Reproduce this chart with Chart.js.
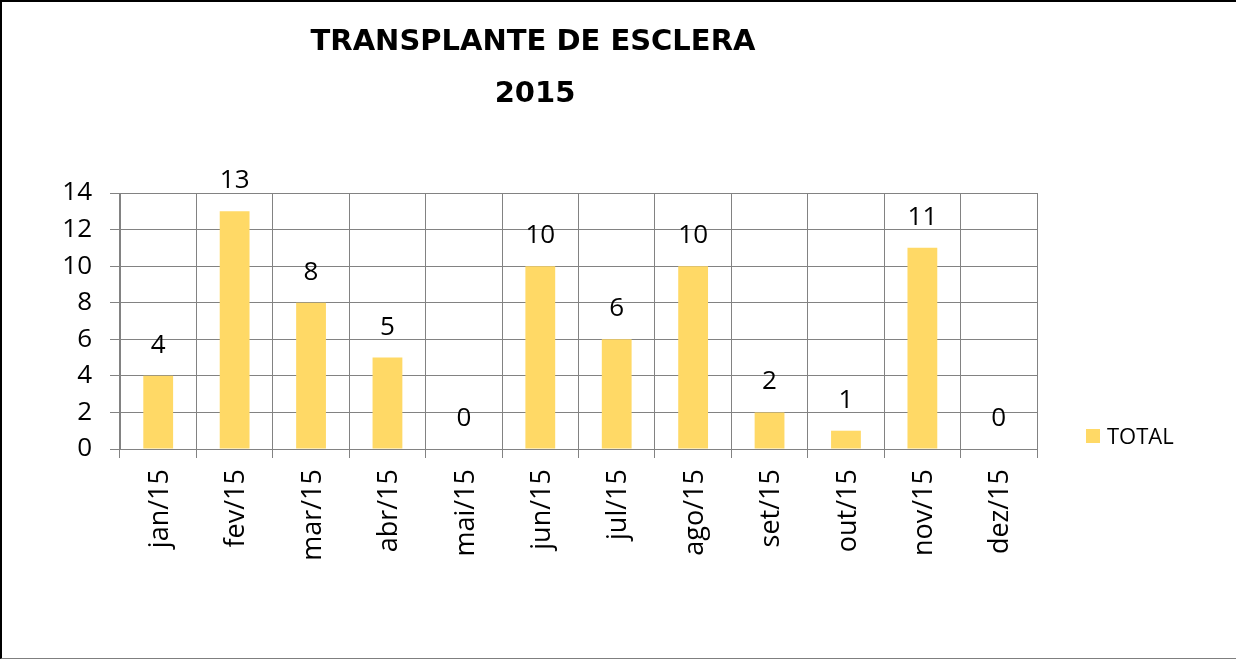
<!DOCTYPE html>
<html>
<head>
<meta charset="utf-8">
<title>Transplante de Esclera 2015</title>
<script src="https://cdn.jsdelivr.net/npm/chart.js@4.4.1/dist/chart.umd.min.js"></script>
<style>
  html, body { margin: 0; padding: 0; background: #fff; }
  #frame {
    width: 1236px; height: 659px; box-sizing: border-box;
    border-top: 2px solid #000; border-left: 2px solid #000; border-bottom: 1px solid #7f7f7f;
    overflow: hidden;
  }
  canvas { display: block; }
</style>
</head>
<body>
<div id="frame"><canvas id="chart" width="1234" height="656"></canvas></div>
<script>
// chart data
const months = ['jan/15', 'fev/15', 'mar/15', 'abr/15', 'mai/15', 'jun/15',
                'jul/15', 'ago/15', 'set/15', 'out/15', 'nov/15', 'dez/15'];
const totals = [4, 13, 8, 5, 0, 10, 6, 10, 2, 1, 11, 0];
const seriesName = 'TOTAL';
const titleLines = ['TRANSPLANTE DE ESCLERA', '2015'];
const yMin = 0, yMax = 14, yStep = 2;

// styles
const barColor = '#FFD966';
const gridColor = '#828282';
const textFont = 'Open Sans';

// title drawn left of centre, like the original
const titlePlugin = {
    id: 'titleText',
    afterDraw(chart) {
        const ctx = chart.ctx;
        ctx.save();
        ctx.font = 'bold 29px "DejaVu Sans"';
        ctx.fillStyle = '#000';
        ctx.textAlign = 'center';
        ctx.textBaseline = 'alphabetic';
        ctx.fillText(titleLines[0], 531, 48);
        ctx.fillText(titleLines[1], 533, 100);
        ctx.restore();
    }
};

// value labels above each bar
const valueLabels = {
    id: 'valueLabels',
    afterDatasetsDraw(chart) {
        const ctx = chart.ctx;
        ctx.save();
        ctx.font = '26px "' + textFont + '"';
        ctx.fillStyle = '#000';
        ctx.textAlign = 'center';
        ctx.textBaseline = 'alphabetic';
        chart.getDatasetMeta(0).data.forEach((bar, i) => {
            ctx.fillText(String(totals[i]), bar.x, bar.y - 23);
        });
        ctx.restore();
    }
};

// legend on the right, near the bottom of the plot
const sideLegend = {
    id: 'sideLegend',
    afterDraw(chart) {
        const ctx = chart.ctx;
        const area = chart.chartArea;
        const ds = chart.data.datasets[0];
        ctx.save();
        ctx.fillStyle = ds.backgroundColor;
        ctx.fillRect(area.right + 49, area.bottom - 20, 14, 14);
        ctx.font = '22px "' + textFont + '"';
        ctx.fillStyle = '#000';
        ctx.textBaseline = 'alphabetic';
        ctx.fillText(ds.label, area.right + 70, area.bottom - 5);
        ctx.restore();
    }
};

new Chart(document.getElementById('chart'), {
    type: 'bar',
    data: {
        labels: months,
        datasets: [{
            label: seriesName,
            data: totals,
            backgroundColor: barColor,
            borderWidth: 0,
            barPercentage: 0.39,
            categoryPercentage: 1
        }]
    },
    options: {
        responsive: false,
        animation: false,
        devicePixelRatio: 1,
        layout: { padding: { top: 191, right: 199, bottom: 0, left: 0 } },
        plugins: {
            legend: { display: false },
            title: { display: false },
            tooltip: { enabled: false }
        },
        scales: {
            x: {
                grid: { color: gridColor, tickLength: 9, offset: true },
                border: { color: gridColor },
                ticks: {
                    autoSkip: false, minRotation: 90, maxRotation: 90, padding: 11,
                    labelOffset: 2,
                    color: '#000', font: { family: textFont, size: 27 }
                },
                afterFit(scale) { scale.height = 209; }
            },
            y: {
                min: yMin, max: yMax,
                grid: { color: gridColor, tickLength: 10 },
                border: { color: gridColor },
                ticks: {
                    stepSize: yStep, padding: 18,
                    color: '#000', font: { family: textFont, size: 26 }
                },
                afterFit(scale) { scale.width = 118; }
            }
        }
    },
    plugins: [titlePlugin, valueLabels, sideLegend]
});
</script>
</body>
</html>
